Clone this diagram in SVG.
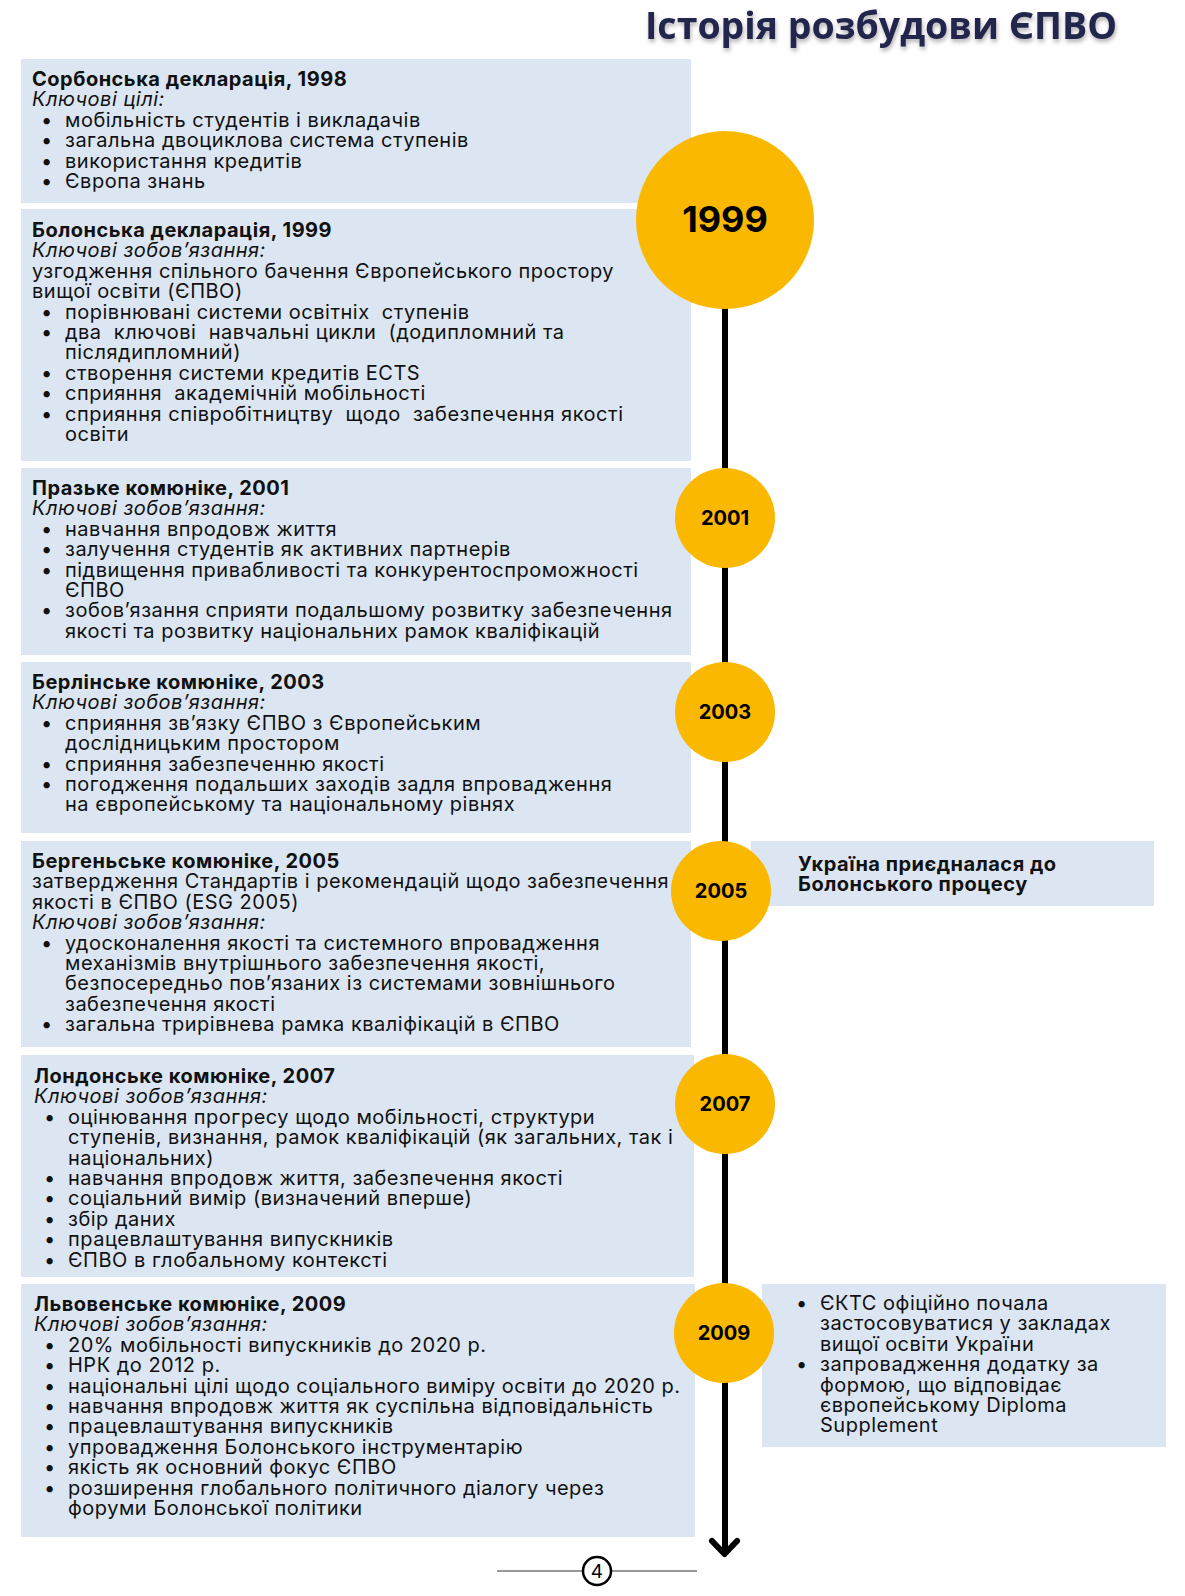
<svg xmlns="http://www.w3.org/2000/svg" width="1185" height="1596" viewBox="0 0 1185 1596">
<defs>
<style>
.box{fill:#dce6f2}
.yr{fill:#fab800}
.h{font-family:Inter,"Noto Sans",sans-serif;font-weight:700;font-size:20px;letter-spacing:0.5px;fill:#111}
.i{font-family:Inter,"Noto Sans",sans-serif;font-style:italic;font-size:20px;letter-spacing:0.5px;fill:#111}
.p text,.p{font-family:Inter,"Noto Sans",sans-serif;font-size:20px;letter-spacing:0.5px;fill:#111;white-space:pre}
.yt{font-family:Inter,"Noto Sans",sans-serif;font-weight:700;fill:#000;text-anchor:middle}
.title{font-family:"Open Sans","Noto Sans",sans-serif;font-weight:700;font-size:37.5px;fill:#23264d;text-anchor:end}
</style>
<filter id="sh" x="-10%" y="-30%" width="120%" height="160%">
<feDropShadow dx="1" dy="3" stdDeviation="2" flood-color="#000" flood-opacity="0.3"/>
</filter>
</defs>
<rect width="1185" height="1596" fill="#fff"/>
<text id="title" class="title" x="1117" y="39" filter="url(#sh)">Історія розбудови ЄПВО</text>

<g id="connectors">
<line x1="725" y1="300" x2="725" y2="1553" stroke="#000" stroke-width="6"/>
<polyline points="712,1541 724.5,1554 737,1541" fill="none" stroke="#000" stroke-width="6" stroke-linecap="round" stroke-linejoin="round"/>
</g>

<g id="box1998">
<rect class="box" x="21" y="59" width="670" height="144"/>
<text class="h" x="32" y="86">Сорбонська декларація, 1998</text>
<text class="i" x="32" y="106.4">Ключові цілі:</text>
<g class="p">
<text x="41" y="126.8">•</text><text x="65" y="126.8">мобільність студентів і викладачів</text>
<text x="41" y="147.2">•</text><text x="65" y="147.2">загальна двоциклова система ступенів</text>
<text x="41" y="167.6">•</text><text x="65" y="167.6">використання кредитів</text>
<text x="41" y="188">•</text><text x="65" y="188">Європа знань</text>
</g>
</g>

<g id="box1999">
<rect class="box" x="21" y="209" width="670" height="252"/>
<text class="h" x="32" y="237">Болонська декларація, 1999</text>
<text class="i" x="32" y="257.4">Ключові зобов’язання:</text>
<g class="p">
<text x="32" y="277.8">узгодження спільного бачення Європейського простору</text>
<text x="32" y="298.2">вищої освіти (ЄПВО)</text>
<text x="41" y="318.6">•</text><text x="65" y="318.6" xml:space="preserve">порівнювані системи освітніх  ступенів</text>
<text x="41" y="339">•</text><text x="65" y="339" xml:space="preserve">два  ключові  навчальні цикли  (додипломний та</text>
<text x="65" y="359.4">післядипломний)</text>
<text x="41" y="379.8">•</text><text x="65" y="379.8">створення системи кредитів ECTS</text>
<text x="41" y="400.2">•</text><text x="65" y="400.2" xml:space="preserve">сприяння  академічній мобільності</text>
<text x="41" y="420.6">•</text><text x="65" y="420.6" xml:space="preserve">сприяння співробітництву  щодо  забезпечення якості</text>
<text x="65" y="441">освіти</text>
</g>
</g>

<g id="box2001">
<rect class="box" x="21" y="468" width="670" height="187"/>
<text class="h" x="32" y="495">Празьке комюніке, 2001</text>
<text class="i" x="32" y="515.4">Ключові зобов’язання:</text>
<g class="p">
<text x="41" y="535.8">•</text><text x="65" y="535.8">навчання впродовж життя</text>
<text x="41" y="556.2">•</text><text x="65" y="556.2">залучення студентів як активних партнерів</text>
<text x="41" y="576.6">•</text><text x="65" y="576.6">підвищення привабливості та конкурентоспроможності</text>
<text x="65" y="597">ЄПВО</text>
<text x="41" y="617.4">•</text><text x="65" y="617.4">зобов’язання сприяти подальшому розвитку забезпечення</text>
<text x="65" y="637.8">якості та розвитку національних рамок кваліфікацій</text>
</g>
</g>

<g id="box2003">
<rect class="box" x="21" y="662" width="670" height="171"/>
<text class="h" x="32" y="689">Берлінське комюніке, 2003</text>
<text class="i" x="32" y="709.4">Ключові зобов’язання:</text>
<g class="p">
<text x="41" y="729.8">•</text><text x="65" y="729.8">сприяння зв’язку ЄПВО з Європейським</text>
<text x="65" y="750.2">дослідницьким простором</text>
<text x="41" y="770.6">•</text><text x="65" y="770.6">сприяння забезпеченню якості</text>
<text x="41" y="791">•</text><text x="65" y="791">погодження подальших заходів задля впровадження</text>
<text x="65" y="811.4">на європейському та національному рівнях</text>
</g>
</g>

<g id="box2005">
<rect class="box" x="21" y="841" width="670" height="206"/>
<text class="h" x="32" y="868">Бергеньське комюніке, 2005</text>
<g class="p">
<text x="32" y="888.4">затвердження Стандартів і рекомендацій щодо забезпечення</text>
<text x="32" y="908.8">якості в ЄПВО (ESG 2005)</text>
</g>
<text class="i" x="32" y="929.2">Ключові зобов’язання:</text>
<g class="p">
<text x="41" y="949.6">•</text><text x="65" y="949.6">удосконалення якості та системного впровадження</text>
<text x="65" y="970">механізмів внутрішнього забезпечення якості,</text>
<text x="65" y="990.4">безпосередньо пов’язаних із системами зовнішнього</text>
<text x="65" y="1010.8">забезпечення якості</text>
<text x="41" y="1031.2">•</text><text x="65" y="1031.2">загальна трирівнева рамка кваліфікацій в ЄПВО</text>
</g>
</g>

<g id="box2007">
<rect class="box" x="21" y="1055" width="673" height="222"/>
<text class="h" x="34" y="1083">Лондонське комюніке, 2007</text>
<text class="i" x="34" y="1103.4">Ключові зобов’язання:</text>
<g class="p">
<text x="44" y="1123.8">•</text><text x="68" y="1123.8">оцінювання прогресу щодо мобільності, структури</text>
<text x="68" y="1144.2">ступенів, визнання, рамок кваліфікацій (як загальних, так і</text>
<text x="68" y="1164.6">національних)</text>
<text x="44" y="1185">•</text><text x="68" y="1185">навчання впродовж життя, забезпечення якості</text>
<text x="44" y="1205.4">•</text><text x="68" y="1205.4">соціальний вимір (визначений вперше)</text>
<text x="44" y="1225.8">•</text><text x="68" y="1225.8">збір даних</text>
<text x="44" y="1246.2">•</text><text x="68" y="1246.2">працевлаштування випускників</text>
<text x="44" y="1266.6">•</text><text x="68" y="1266.6">ЄПВО в глобальному контексті</text>
</g>
</g>

<g id="box2009">
<rect class="box" x="21" y="1284" width="674" height="253"/>
<text class="h" x="34" y="1311">Львовенське комюніке, 2009</text>
<text class="i" x="34" y="1331.4">Ключові зобов’язання:</text>
<g class="p">
<text x="44" y="1351.8">•</text><text x="68" y="1351.8">20% мобільності випускників до 2020 р.</text>
<text x="44" y="1372.2">•</text><text x="68" y="1372.2">НРК до 2012 р.</text>
<text x="44" y="1392.6">•</text><text x="68" y="1392.6">національні цілі щодо соціального виміру освіти до 2020 р.</text>
<text x="44" y="1413">•</text><text x="68" y="1413">навчання впродовж життя як суспільна відповідальність</text>
<text x="44" y="1433.4">•</text><text x="68" y="1433.4">працевлаштування випускників</text>
<text x="44" y="1453.8">•</text><text x="68" y="1453.8">упровадження Болонського інструментарію</text>
<text x="44" y="1474.2">•</text><text x="68" y="1474.2">якість як основний фокус ЄПВО</text>
<text x="44" y="1494.6">•</text><text x="68" y="1494.6">розширення глобального політичного діалогу через</text>
<text x="68" y="1515">форуми Болонської політики</text>
</g>
</g>

<g id="ukraine2005">
<rect class="box" x="751" y="841" width="403" height="65"/>
<text class="h" x="798" y="871">Україна приєдналася до</text>
<text class="h" x="798" y="891">Болонського процесу</text>
</g>

<g id="ukraine2009">
<rect class="box" x="762" y="1284" width="404" height="163"/>
<g class="p">
<text x="796" y="1310">•</text><text x="820" y="1310">ЄКТС офіційно почала</text>
<text x="820" y="1330.4">застосовуватися у закладах</text>
<text x="820" y="1350.8">вищої освіти України</text>
<text x="796" y="1371.2">•</text><text x="820" y="1371.2">запровадження додатку за</text>
<text x="820" y="1391.6">формою, що відповідає</text>
<text x="820" y="1412">європейському Diploma</text>
<text x="820" y="1432.4">Supplement</text>
</g>
</g>

<g id="y1999"><circle class="yr" cx="725" cy="220" r="89"/><text class="yt" x="725" y="232" font-size="36">1999</text></g>
<g id="y2001"><circle class="yr" cx="725" cy="518" r="50"/><text class="yt" x="725" y="525" font-size="20">2001</text></g>
<g id="y2003"><circle class="yr" cx="725" cy="712" r="50"/><text class="yt" x="725" y="719" font-size="20">2003</text></g>
<g id="y2005"><circle class="yr" cx="721" cy="891" r="50"/><text class="yt" x="721" y="898" font-size="20">2005</text></g>
<g id="y2007"><circle class="yr" cx="725" cy="1104" r="50"/><text class="yt" x="725" y="1111" font-size="20">2007</text></g>
<g id="y2009"><circle class="yr" cx="724" cy="1333" r="50"/><text class="yt" x="724" y="1340" font-size="20">2009</text></g>

<g id="page">
<line x1="497" y1="1571" x2="697" y2="1571" stroke="#777" stroke-width="1.5"/>
<circle cx="597" cy="1571" r="14" fill="#fff" stroke="#000" stroke-width="2.5"/>
<text x="597" y="1578" text-anchor="middle" font-family="Inter,sans-serif" font-size="19" fill="#000">4</text>
</g>
</svg>
